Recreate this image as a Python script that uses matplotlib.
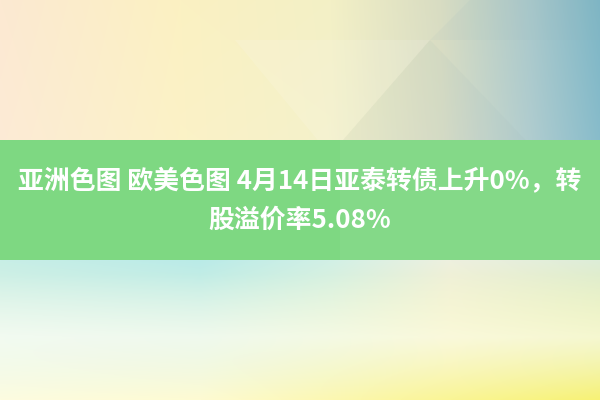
import numpy as np
import matplotlib
matplotlib.use("Agg")
import matplotlib.pyplot as plt
from matplotlib.colors import to_rgb
from matplotlib.patches import Polygon, Rectangle

plt.rcParams['font.family'] = ['Noto Sans CJK SC', 'DejaVu Sans']

# Banner text
title_lines = ["亚洲色图 欧美色图 4月14日亚泰转债上升0%，转", "股溢价率5.08%"]

# Colour anchors (x position in px, colour) for the backgrounds
top_stops_x = [0, 180, 330, 440, 530, 600]
top_colors = ["#FCE9D2", "#FBF1C2", "#F3F0C6", "#D8DCC2", "#A9C8CB", "#7DB6C6"]
bottom_top_x = [0, 200, 330, 450, 600]
bottom_top_colors = ["#C8EEE6", "#BAEBE8", "#D2F0E6", "#EEF0DF", "#DDEDD8"]
bottom_low_x = [0, 200, 400, 600]
bottom_low_colors = ["#FDFCE0", "#FEFBD2", "#FBF6A0", "#F7F275"]
band_color = "#7ED882"

W, H = 600, 400
band_top, band_bottom = 140, 260


def hgrad(xs, cols, width):
    grid = np.arange(width)
    rgb = np.array([to_rgb(c) for c in cols])
    return np.stack([np.interp(grid, xs, rgb[:, k]) for k in range(3)], axis=-1)


fig = plt.figure(figsize=(6, 4), dpi=100)
ax = fig.add_axes([0, 0, 1, 1])
ax.set_xlim(0, W)
ax.set_ylim(H, 0)
ax.axis("off")

# top section: horizontal gradient, slightly lighter to the bottom
top_row = hgrad(top_stops_x, top_colors, W)
t = np.linspace(0, 1, band_top)[:, None, None]
top_img = top_row[None, :, :] * (1 - 0.08 * t) + 0.08 * t
ax.imshow(top_img, extent=[0, W, band_top, 0], aspect="auto", zorder=0)

# faint facets in top section
ax.add_patch(Polygon([[235, 40], [330, 155], [430, 40]], closed=True,
                     color="white", alpha=0.12, lw=0, zorder=1))
ax.add_patch(Polygon([[330, 155], [430, 40], [540, 155]], closed=True,
                     color="#9FB8B8", alpha=0.10, lw=0, zorder=1))
ax.add_patch(Polygon([[430, 40], [470, 0], [600, 0], [600, 40]], closed=True,
                     color="#8FB0B8", alpha=0.08, lw=0, zorder=1))

# bottom section: sky fading into yellow
row_a = hgrad(bottom_top_x, bottom_top_colors, W)
row_b = hgrad(bottom_low_x, bottom_low_colors, W)
nb = H - band_bottom
s = np.linspace(0, 1, nb)[:, None, None]
mid = np.ones(3)
w_mid = np.clip(1 - np.abs(s - 0.55) / 0.45, 0, 1) * 0.5
bot_img = row_a[None] * (1 - s) + row_b[None] * s
bot_img = bot_img * (1 - w_mid) + mid * w_mid
ax.imshow(bot_img, extent=[0, W, H, band_bottom], aspect="auto", zorder=0)

# green band
ax.add_patch(Rectangle((0, band_top), W, band_bottom - band_top,
                       color=band_color, lw=0, zorder=2))
ax.add_patch(Rectangle((340, band_top), W - 340, band_bottom - band_top,
                       color="white", alpha=0.05, lw=0, zorder=2))

ax.text(W / 2, 182, title_lines[0], color="white", fontsize=18.6,
        fontweight="bold", ha="center", va="center", zorder=3)
ax.text(W / 2, 220, title_lines[1], color="white", fontsize=18.6,
        fontweight="bold", ha="center", va="center", zorder=3)

fig.savefig("out.png", dpi=100)
